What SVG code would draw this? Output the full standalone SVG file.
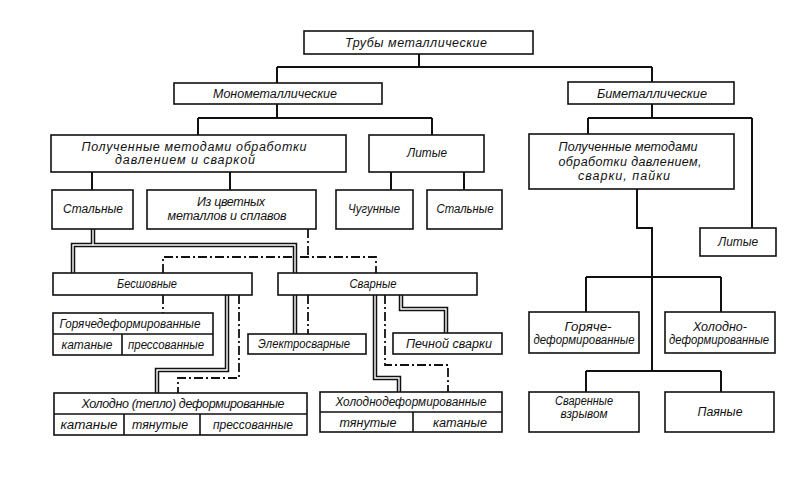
<svg xmlns="http://www.w3.org/2000/svg" width="800" height="480" viewBox="0 0 800 480">
<style>
.b{fill:#fff;stroke:#111;stroke-width:1.6}
.d{fill:none;stroke:#111;stroke-width:1.6}
.t{font-family:"Liberation Sans","DejaVu Sans",sans-serif;font-style:italic;font-size:12.5px;fill:#111;text-anchor:middle}
.s{fill:none;stroke:#111;stroke-width:2}
.w1{fill:none;stroke:#111;stroke-width:4.5;stroke-linejoin:miter}
.w2{fill:none;stroke:#fff;stroke-width:1.4;stroke-linejoin:miter}
.dd{fill:none;stroke:#111;stroke-width:1.8;stroke-dasharray:9 3 2 3}
</style>
<rect width="800" height="480" fill="#fff"/>
<g id="connectors">
<path class="s" d="M419,54V67M277,67H652M277,67V83M652,67V82"/>
<path class="s" d="M277,104V118M198,118H432M198,118V135M432,118V135"/>
<path class="s" d="M652,104V118M588,118H752M588,118V134M752,118V228"/>
<path class="s" d="M92,172V190M230,172V190M391,172V190M464,172V190"/>
<path class="s" d="M637,189V228H652V371M586,277H721M586,277V312M721,277V312M586,371H721M586,371V392M721,371V392"/>
<path class="dd" d="M308,229V257M163,273V257H376V273"/>
<path class="dd" d="M163,295V313"/>
<path class="dd" d="M239,295V378H178V393"/>
<path class="dd" d="M308,295V334"/>
<path class="dd" d="M385,295V365H448V392"/>
<g id="double-lines">
<path class="w1" d="M93,229V245M73,273V245H295V273M295,295V334M227,295V370H157V393M375,295V378H399V392M401,295V309H446V333"/>
<path class="w2" d="M93,229V245M73,273V245H295V273M295,295V334M227,295V370H157V393M375,295V378H399V392M401,295V309H446V333"/>
</g>
</g>
<g id="n1"><rect class="b" x="304" y="31" width="229" height="23"/><text class="t" x="416" y="47" textLength="142" lengthAdjust="spacing">Трубы металлические</text></g>
<g id="n2"><rect class="b" x="174" y="83" width="208" height="21"/><text class="t" x="275" y="98" textLength="124" lengthAdjust="spacingAndGlyphs">Монометаллические</text></g>
<g id="n3"><rect class="b" x="568" y="82" width="166" height="22"/><text class="t" x="652" y="98" textLength="110" lengthAdjust="spacingAndGlyphs">Биметаллические</text></g>
<g id="n4"><rect class="b" x="51" y="135" width="295" height="37"/><text class="t" x="194" y="151" textLength="225" lengthAdjust="spacing">Полученные методами обработки</text><text class="t" x="185" y="164" textLength="140" lengthAdjust="spacing">давлением и сваркой</text></g>
<g id="n5"><rect class="b" x="369" y="135" width="115" height="37"/><text class="t" x="427" y="157" textLength="40" lengthAdjust="spacingAndGlyphs">Литые</text></g>
<g id="n6"><rect class="b" x="52" y="190" width="81" height="39"/><text class="t" x="93" y="213" textLength="60" lengthAdjust="spacingAndGlyphs">Стальные</text></g>
<g id="n7"><rect class="b" x="147" y="190" width="169" height="39"/><text class="t" x="231" y="206" textLength="68" lengthAdjust="spacing">Из цветных</text><text class="t" x="227" y="220" textLength="119" lengthAdjust="spacing">металлов и сплавов</text></g>
<g id="n8"><rect class="b" x="336" y="190" width="77" height="39"/><text class="t" x="374" y="213" textLength="52" lengthAdjust="spacingAndGlyphs">Чугунные</text></g>
<g id="n9"><rect class="b" x="427" y="190" width="75" height="39"/><text class="t" x="465" y="213" textLength="57" lengthAdjust="spacingAndGlyphs">Стальные</text></g>
<g id="n10"><rect class="b" x="529" y="134" width="205" height="55"/><text class="t" x="628" y="151" textLength="139" lengthAdjust="spacing">Полученные методами</text><text class="t" x="630" y="166" textLength="143" lengthAdjust="spacing">обработки давлением,</text><text class="t" x="624" y="180" textLength="92" lengthAdjust="spacing">сварки, пайки</text></g>
<g id="n11"><rect class="b" x="700" y="228" width="76" height="28"/><text class="t" x="738" y="246" textLength="40" lengthAdjust="spacingAndGlyphs">Литые</text></g>
<g id="n12"><rect class="b" x="53" y="273" width="199" height="22"/><text class="t" x="147" y="288" textLength="60" lengthAdjust="spacingAndGlyphs">Бесшовные</text></g>
<g id="n13"><rect class="b" x="278" y="273" width="199" height="22"/><text class="t" x="373" y="288" textLength="47" lengthAdjust="spacingAndGlyphs">Сварные</text></g>
<g id="n14"><rect class="b" x="53" y="313" width="160" height="42"/><path class="d" d="M53,334H213M122,334V355"/><text class="t" x="130" y="328" textLength="141" lengthAdjust="spacingAndGlyphs">Горячедеформированные</text><text class="t" x="87" y="349" textLength="51" lengthAdjust="spacingAndGlyphs">катаные</text><text class="t" x="166" y="349" textLength="76" lengthAdjust="spacingAndGlyphs">прессованные</text></g>
<g id="n15"><rect class="b" x="248" y="334" width="118" height="20"/><text class="t" x="304" y="348" textLength="92" lengthAdjust="spacingAndGlyphs">Электросварные</text></g>
<g id="n16"><rect class="b" x="393" y="333" width="109" height="21"/><text class="t" x="449" y="348" textLength="86" lengthAdjust="spacing">Печной сварки</text></g>
<g id="n17"><rect class="b" x="54" y="393" width="253" height="42"/><path class="d" d="M54,414H307M124,414V435M200,414V435"/><text class="t" x="183" y="408" textLength="203" lengthAdjust="spacing">Холодно (тепло) деформированные</text><text class="t" x="89" y="429" textLength="57" lengthAdjust="spacingAndGlyphs">катаные</text><text class="t" x="160" y="429" textLength="56" lengthAdjust="spacingAndGlyphs">тянутые</text><text class="t" x="253" y="429" textLength="80" lengthAdjust="spacingAndGlyphs">прессованные</text></g>
<g id="n18"><rect class="b" x="320" y="392" width="182" height="40"/><path class="d" d="M320,412H502M413,412V432"/><text class="t" x="411" y="406" textLength="151" lengthAdjust="spacingAndGlyphs">Холоднодеформированные</text><text class="t" x="368" y="427" textLength="57" lengthAdjust="spacingAndGlyphs">тянутые</text><text class="t" x="460" y="427" textLength="54" lengthAdjust="spacingAndGlyphs">катаные</text></g>
<g id="n19"><rect class="b" x="529" y="312" width="110" height="41"/><text class="t" x="588" y="331" textLength="47" lengthAdjust="spacingAndGlyphs">Горяче-</text><text class="t" x="584" y="344" textLength="101" lengthAdjust="spacingAndGlyphs">деформированные</text></g>
<g id="n20"><rect class="b" x="665" y="312" width="110" height="41"/><text class="t" x="720" y="331" textLength="54" lengthAdjust="spacingAndGlyphs">Холодно-</text><text class="t" x="719" y="344" textLength="100" lengthAdjust="spacingAndGlyphs">деформированные</text></g>
<g id="n21"><rect class="b" x="529" y="392" width="110" height="40"/><text class="t" x="584" y="405" textLength="58" lengthAdjust="spacingAndGlyphs">Сваренные</text><text class="t" x="584" y="418" textLength="47" lengthAdjust="spacingAndGlyphs">взрывом</text></g>
<g id="n22"><rect class="b" x="665" y="392" width="109" height="40"/><text class="t" x="720" y="416" textLength="45" lengthAdjust="spacingAndGlyphs">Паяные</text></g>
</svg>
